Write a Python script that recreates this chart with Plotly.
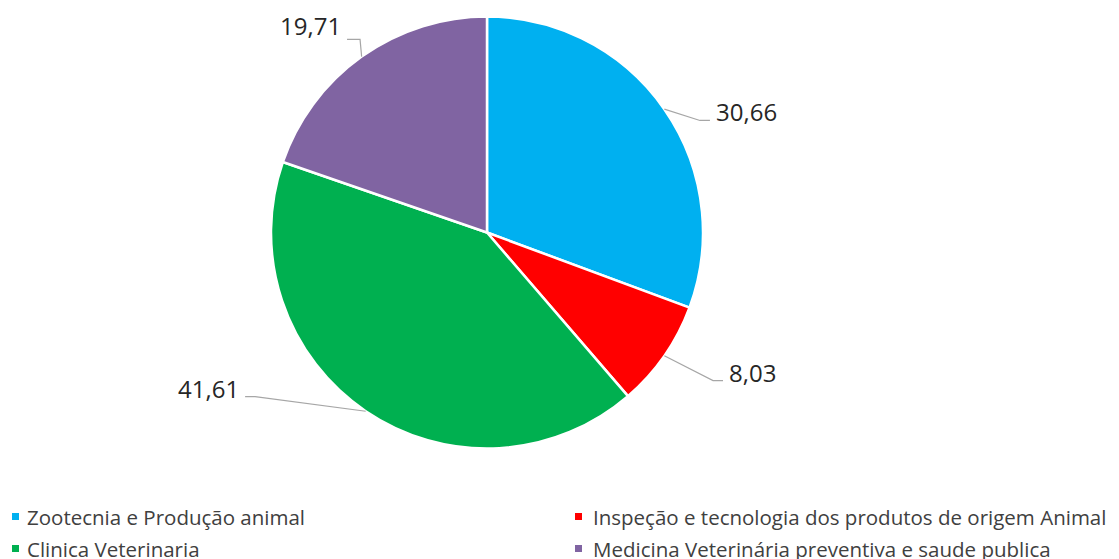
import math
import plotly.graph_objects as go

# ---- data ----
categories = [
    "Zootecnia e Produção animal",
    "Inspeção e tecnologia dos produtos de origem Animal",
    "Clinica Veterinaria",
    "Medicina Veterinária preventiva e saude publica",
]
values = [30.66, 8.03, 41.61, 19.71]
colors = ["#00B0F0", "#FF0000", "#00B050", "#8064A2"]

# ---- layout constants (pixels) ----
W, H = 1119, 559
CX, CY, R = 487, 232.5, 216
# leader line end offsets relative to slice edge point (dx, dy), horizontal tail length, text y offset
leader_end = [(45.6, 11.3), (58.7, 24.7), (-120.6, -14.7), (-14.6, -17.2)]
tail_len = [10, 10, 10, 13]
text_dy = [-9, -8.5, -8.5, -14]

legend_marker_x = [15.5, 578.5]
legend_text_x = [25, 591]
legend_row_y = [516.5, 548.5]

LABEL_FONT = dict(family="Open Sans", size=24, color="#262626")
LEGEND_FONT = dict(family="Open Sans", size=20.5, color="#404040")


def px(x):
    return x / W


def py(y):
    return 1 - y / H


fig = go.Figure(
    go.Pie(
        labels=categories,
        values=values,
        marker=dict(colors=colors, line=dict(color="white", width=2.5)),
        sort=False,
        direction="clockwise",
        rotation=0,
        textinfo="none",
        hoverinfo="label+value",
        showlegend=False,
        domain=dict(
            x=[px(CX - R), px(CX + R)],
            y=[py(CY + R), py(CY - R)],
        ),
    )
)

shapes = []
annotations = []
total = sum(values)
cum = 0.0
for i, v in enumerate(values):
    mid = (cum + v / 2) / total * 2 * math.pi
    cum += v
    ex = CX + R * math.sin(mid)
    ey = CY - R * math.cos(mid)
    dx, dy = leader_end[i]
    endx, endy = ex + dx, ey + dy
    side = 1 if dx > 0 else -1
    elbx = endx - side * tail_len[i]
    path = f"M {px(ex)},{py(ey)} L {px(elbx)},{py(endy)} L {px(endx)},{py(endy)}"
    shapes.append(dict(type="path", xref="paper", yref="paper", path=path,
                       line=dict(color="#A6A6A6", width=1.2)))
    label = f"{v:.2f}".replace(".", ",")
    annotations.append(dict(
        x=px(endx + side * 4), y=py(endy + text_dy[i]), xref="paper", yref="paper",
        text=label, showarrow=False, font=LABEL_FONT,
        xanchor="left" if side > 0 else "right", yanchor="middle",
    ))

# custom legend: two columns, two rows
for i, name in enumerate(categories):
    col = i % 2
    row = i // 2
    mx, my = legend_marker_x[col], legend_row_y[row]
    s = 3.5
    shapes.append(dict(type="rect", xref="paper", yref="paper",
                       x0=px(mx - s), x1=px(mx + s), y0=py(my + s), y1=py(my - s),
                       fillcolor=colors[i], line=dict(width=0)))
    annotations.append(dict(
        x=px(legend_text_x[col]), y=py(my), xref="paper", yref="paper",
        text=name, showarrow=False, font=LEGEND_FONT,
        xanchor="left", yanchor="middle",
    ))

fig.update_layout(
    width=W, height=H,
    margin=dict(l=0, r=0, t=0, b=0),
    paper_bgcolor="white", plot_bgcolor="white",
    shapes=shapes, annotations=annotations,
)

fig.write_html(
    "out.html",
    config={"displayModeBar": False},
    post_script="document.body.style.margin='0';document.body.style.overflow='hidden';",
)
